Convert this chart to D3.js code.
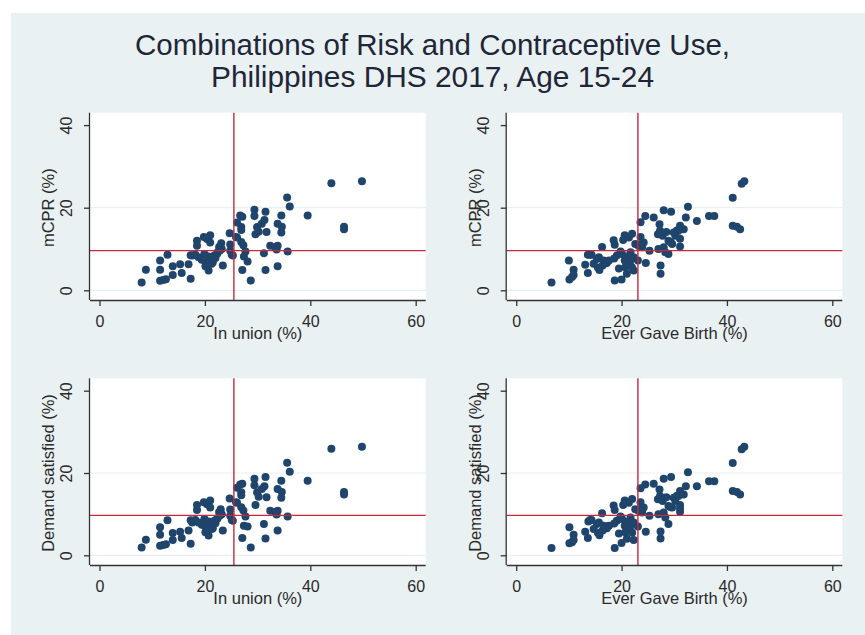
<!DOCTYPE html>
<html>
<head>
<meta charset="utf-8">
<script src="https://cdn.jsdelivr.net/npm/d3@7"></script>
<style>
  html, body { margin: 0; padding: 0; background: #ffffff; }
  svg { display: block; }
  text { font-family: "Liberation Sans", Arial, sans-serif; }
</style>
</head>
<body>
<svg id="chart" width="865" height="635"></svg>
<script>
// ---------------- DATA ----------------
const titleLines = ["Combinations of Risk and Contraceptive Use,", "Philippines DHS 2017, Age 15-24"];
const xTicks = [0, 20, 40, 60];
const yTicks = [0, 20, 40];
const gridTicks = [0, 20];

const unionCut = 25.5;   // mean % in union
const birthCut = 23.1;   // mean % ever gave birth
const mcprCut = 9.6;     // mean mCPR
const demandCut = 9.7;   // mean demand satisfied

// In union (%) vs mCPR (%)
const unionVsMcpr = [
  [8.0,1.9],[8.8,5.0],[11.5,7.2],[11.5,5.0],[11.5,2.3],[12.1,2.5],[12.6,2.7],[12.9,8.6],[13.9,5.8],[13.9,3.7],
  [15.3,6.3],[15.6,4.2],[16.9,6.3],[17.3,2.8],[17.6,8.4],[18.2,8.6],[18.5,12.0],[18.5,10.8],[18.8,8.0],[19.4,7.4],
  [19.8,12.9],[20.1,6.9],[20.1,5.8],[20.4,12.4],[20.7,4.8],[20.7,8.2],[21.0,13.3],[21.0,11.6],[21.2,7.6],[21.5,6.8],
  [21.8,8.4],[22.4,9.2],[22.7,10.5],[23.1,11.4],[23.4,6.0],[24.7,13.8],[24.8,11.1],[24.8,9.6],[25.1,8.6],[25.9,12.9],
  [26.1,16.4],[26.7,18.1],[27.1,17.8],[26.9,15.3],[26.9,14.6],[26.9,11.7],[27.3,10.9],[27.4,8.2],[27.1,4.9],[28.7,2.4],
  [28.1,7.0],[27.7,9.4],[29.4,19.5],[29.4,18.0],[29.9,15.3],[29.6,13.6],[30.2,14.2],[30.8,16.1],[31.3,17.0],[31.5,19.0],
  [31.7,14.1],[31.2,9.0],[31.5,4.9],[32.4,10.8],[33.3,10.5],[33.8,10.8],[33.6,9.9],[33.8,16.1],[34.5,18.1],[34.5,14.0],
  [34.6,15.4],[33.8,5.8],[35.6,22.5],[36.1,20.3],[35.7,9.4],[39.5,18.1],[44.0,25.9],[46.4,15.4],[46.4,14.8],[49.8,26.4],
  [22.0,7.8],[22.3,8.8],[23.2,10.0],[19.9,8.8],[20.5,6.3],[21.3,6.4],[22.8,9.6],[25.3,8.4],[26.1,12.8],[17.3,8.5]
];

// Ever gave birth (%) vs mCPR (%)
const birthVsMcpr = [
  [6.7,1.9],[10.0,7.2],[10.1,2.6],[10.6,3.2],[10.9,5.0],[10.9,3.7],[13.1,6.2],[13.6,8.6],[13.6,4.2],[14.3,8.6],
  [14.7,6.4],[15.3,7.6],[15.7,8.0],[15.8,4.9],[16.3,10.5],[16.4,6.0],[16.6,7.2],[17.2,6.6],[17.6,7.2],[18.5,12.1],
  [18.7,11.0],[18.7,2.4],[19.1,8.4],[19.5,5.3],[19.8,9.4],[20.0,2.6],[20.1,8.8],[20.3,12.2],[20.6,13.3],[20.6,7.2],
  [20.7,5.6],[21.0,4.0],[21.4,12.8],[21.5,6.4],[21.7,9.2],[22.0,13.7],[22.0,5.5],[22.3,8.0],[22.3,4.8],[22.6,11.2],
  [23.1,7.2],[23.2,10.8],[23.6,16.5],[23.6,12.9],[23.9,10.4],[24.2,11.6],[24.5,18.0],[24.6,6.6],[25.3,9.6],[26.1,17.6],
  [26.9,13.6],[27.2,16.0],[27.3,14.4],[27.4,6.0],[27.4,4.0],[27.0,10.0],[27.8,13.2],[28.0,19.4],[28.0,10.4],[28.3,9.2],
  [28.5,14.1],[28.9,12.0],[28.9,8.8],[29.4,19.0],[29.6,11.2],[29.9,14.0],[30.2,13.2],[30.5,14.5],[30.8,14.4],[31.1,15.6],
  [31.1,10.6],[31.1,12.5],[31.8,14.8],[32.2,17.6],[32.6,20.2],[34.3,16.8],[36.6,18.0],[37.6,18.0],[41.1,22.4],[41.1,15.6],
  [41.9,15.4],[42.5,14.8],[42.8,25.8],[43.3,26.4],[14.0,8.6],[15.5,5.5],[16.9,6.6],[18.6,7.7],[20.9,8.1],[21.6,6.9],
  [23.5,11.0],[29.3,11.7]
];

// In union (%) vs Demand satisfied (%)
const unionVsDemand = [
  [8.0,1.9],[8.8,3.8],[11.5,6.8],[11.5,5.0],[11.5,2.3],[12.1,2.5],[12.6,2.7],[12.9,8.5],[13.9,5.4],[13.9,3.7],
  [15.3,5.7],[15.6,4.2],[16.9,6.0],[17.3,2.8],[17.6,8.0],[18.2,8.6],[18.5,12.2],[18.5,11.0],[18.8,8.0],[19.4,7.4],
  [19.8,12.9],[20.1,6.9],[20.1,5.6],[20.4,12.4],[20.7,4.8],[20.7,8.2],[21.0,13.3],[21.0,11.6],[21.2,7.6],[21.5,6.6],
  [21.8,8.4],[22.4,9.0],[22.7,10.5],[23.0,11.2],[23.4,6.0],[24.7,13.8],[24.8,11.1],[24.8,9.6],[25.1,8.6],[25.9,12.9],
  [26.1,16.4],[26.7,17.2],[27.1,17.4],[26.9,15.3],[26.9,14.6],[26.9,11.7],[27.3,10.9],[27.4,7.2],[27.1,4.2],[28.7,1.9],
  [28.1,7.0],[27.7,9.4],[29.4,18.6],[29.4,17.0],[29.9,15.3],[29.6,12.2],[30.2,14.2],[30.8,16.1],[31.3,16.8],[31.5,19.0],
  [31.7,14.1],[31.2,7.6],[31.5,4.1],[32.4,10.8],[33.3,10.5],[33.8,10.8],[33.6,9.9],[33.8,16.1],[34.5,18.1],[34.5,14.0],
  [34.6,15.4],[33.8,6.0],[35.6,22.5],[36.1,20.3],[35.7,9.4],[39.5,18.1],[44.0,25.9],[46.4,15.4],[46.4,14.8],[49.8,26.4],
  [22.0,7.8],[22.3,8.8],[23.2,10.0],[19.9,8.8],[20.5,6.3],[21.3,6.4],[22.8,9.6],[25.3,8.4],[26.1,12.8],[17.3,8.5]
];

// Ever gave birth (%) vs Demand satisfied (%)
const birthVsDemand = [
  [6.7,1.8],[10.1,6.8],[10.1,2.9],[10.6,3.2],[10.9,5.0],[10.9,3.7],[13.1,5.7],[13.7,8.2],[13.6,4.2],[14.3,8.6],
  [14.7,6.4],[15.3,7.6],[15.7,8.0],[15.8,4.9],[16.3,10.2],[16.4,6.0],[16.6,7.2],[17.2,6.6],[17.6,7.2],[18.5,12.1],
  [18.7,11.0],[18.7,1.8],[19.1,8.4],[19.5,5.3],[19.8,9.4],[20.0,3.0],[20.1,8.8],[20.3,12.2],[20.6,13.3],[20.6,7.2],
  [20.7,5.6],[21.0,4.0],[21.4,12.8],[21.5,6.4],[21.7,9.2],[22.0,13.7],[22.0,5.5],[22.3,8.0],[22.3,3.7],[22.6,11.2],
  [23.1,7.0],[23.2,10.8],[23.6,16.3],[23.6,12.9],[23.9,10.4],[24.2,11.6],[24.5,17.2],[24.6,5.7],[25.3,9.6],[26.1,17.4],
  [26.9,13.6],[27.2,16.0],[27.3,14.4],[27.4,5.8],[27.4,4.1],[27.0,10.0],[27.8,13.2],[28.0,18.6],[28.0,10.4],[28.3,9.2],
  [28.5,14.1],[28.9,12.0],[28.9,7.6],[29.4,19.0],[29.6,11.6],[29.9,14.0],[30.2,13.2],[30.5,14.5],[30.8,14.4],[31.1,15.6],
  [31.1,10.6],[31.1,12.2],[31.1,11.4],[31.8,14.8],[32.2,16.8],[32.6,20.2],[34.3,16.8],[36.6,18.0],[37.6,18.0],[41.1,22.4],
  [41.1,15.6],[41.9,15.4],[42.5,14.8],[42.8,25.8],[43.3,26.4],[14.0,8.6],[15.5,5.5],[16.9,6.6],[18.6,7.7],[20.9,8.1],
  [21.6,6.9],[23.5,11.0],[29.3,11.7]
];

// ---------------- LAYOUT / STYLE ----------------
const W = 865, H = 635;
const colors = {
  outer: "#eaf1f3", plot: "#ffffff", grid: "#e8f0f2", axis: "#333333",
  dot: "#1f456c", ref: "#c8283c", text: "#2a2a2a", title: "#1e2638"
};

const panels = [
  { data: unionVsMcpr,   xLabel: "In union (%)",        yLabel: "mCPR (%)",             xCut: unionCut, yCut: mcprCut,   left: 90,    right: 425.7, top: 112.7, bottom: 300, yTitleOff: 42 },
  { data: birthVsMcpr,   xLabel: "Ever Gave Birth (%)", yLabel: "mCPR (%)",             xCut: birthCut, yCut: mcprCut,   left: 506.7, right: 842.3, top: 112.7, bottom: 300, yTitleOff: 32 },
  { data: unionVsDemand, xLabel: "In union (%)",        yLabel: "Demand satisfied (%)", xCut: unionCut, yCut: demandCut, left: 90,    right: 425.7, top: 378.3, bottom: 565, yTitleOff: 42 },
  { data: birthVsDemand, xLabel: "Ever Gave Birth (%)", yLabel: "Demand satisfied (%)", xCut: birthCut, yCut: demandCut, left: 506.7, right: 842.3, top: 378.3, bottom: 565, yTitleOff: 32 }
];

const svg = d3.select("#chart");

svg.append("rect").attr("x", 11).attr("y", 13).attr("width", W - 11).attr("height", H - 13)
  .attr("fill", colors.outer);

// Title (condensed look via textLength)
svg.append("g").selectAll("text").data(titleLines).join("text")
  .attr("x", 432.5)
  .attr("y", (d, i) => 55 + i * 32)
  .attr("text-anchor", "middle")
  .attr("font-size", 29)
  .attr("fill", colors.title)
  .attr("textLength", (d, i) => i === 0 ? 595 : 443)
  .attr("lengthAdjust", "spacingAndGlyphs")
  .text(d => d);

panels.forEach(p => {
  const g = svg.append("g");
  const x = d3.scaleLinear().domain([0, 60]).range([p.left + 9.5, p.right - 10]);
  const y = d3.scaleLinear().domain([0, 40]).range([p.bottom - 9.7, p.top + 12.4]);

  g.append("rect").attr("x", p.left).attr("y", p.top)
    .attr("width", p.right - p.left).attr("height", p.bottom - p.top)
    .attr("fill", colors.plot);

  // gridlines
  g.selectAll(".grid").data(gridTicks).join("line")
    .attr("x1", p.left).attr("x2", p.right)
    .attr("y1", d => y(d)).attr("y2", d => y(d))
    .attr("stroke", colors.grid).attr("stroke-width", 1.2);

  // points
  g.selectAll("circle").data(p.data).join("circle")
    .attr("cx", d => x(d[0])).attr("cy", d => y(d[1]))
    .attr("r", 4).attr("fill", colors.dot);

  // reference lines
  g.append("line").attr("x1", x(p.xCut)).attr("x2", x(p.xCut))
    .attr("y1", p.top).attr("y2", p.bottom)
    .attr("stroke", colors.ref).attr("stroke-width", 1.4);
  g.append("line").attr("x1", p.left).attr("x2", p.right)
    .attr("y1", y(p.yCut)).attr("y2", y(p.yCut))
    .attr("stroke", colors.ref).attr("stroke-width", 1.4);

  // x axis
  const xAxis = d3.axisBottom(x).tickValues(xTicks).tickSize(6).tickPadding(4).tickFormat(d3.format("d"));
  const gx = g.append("g").attr("transform", `translate(0,${p.bottom})`).call(xAxis);
  gx.select(".domain").attr("d", `M${p.left},0.5H${p.right}`).attr("stroke", colors.axis).attr("stroke-width", 1.3);
  gx.selectAll(".tick line").attr("stroke", colors.axis).attr("stroke-width", 1.3);
  gx.selectAll(".tick text").attr("font-size", 16).attr("fill", colors.text)
    .attr("font-family", "Liberation Sans, Arial, sans-serif").attr("dy", null).attr("y", 26.5);

  // y axis
  const yAxis = d3.axisLeft(y).tickValues(yTicks).tickSize(6).tickFormat(d3.format("d"));
  const gy = g.append("g").attr("transform", `translate(${p.left},0)`).call(yAxis);
  gy.select(".domain").attr("d", `M-0.5,${p.top}V${p.bottom}`).attr("stroke", colors.axis).attr("stroke-width", 1.3);
  gy.selectAll(".tick line").attr("stroke", colors.axis).attr("stroke-width", 1.3);
  gy.selectAll(".tick text").attr("font-size", 16).attr("fill", colors.text)
    .attr("font-family", "Liberation Sans, Arial, sans-serif")
    .attr("x", null).attr("dy", null)
    .attr("text-anchor", "middle")
    .attr("transform", "translate(-18,0) rotate(-90)");

  // axis titles
  g.append("text")
    .attr("x", (p.left + p.right) / 2).attr("y", p.bottom + 38.5)
    .attr("text-anchor", "middle").attr("font-size", 16.5).attr("fill", colors.text)
    .text(p.xLabel);
  const yMid = (y(0) + y(40)) / 2;
  g.append("text")
    .attr("transform", `translate(${p.left - p.yTitleOff + 6},${yMid}) rotate(-90)`)
    .attr("text-anchor", "middle").attr("font-size", 16.5).attr("fill", colors.text)
    .text(p.yLabel);
});
</script>
</body>
</html>
